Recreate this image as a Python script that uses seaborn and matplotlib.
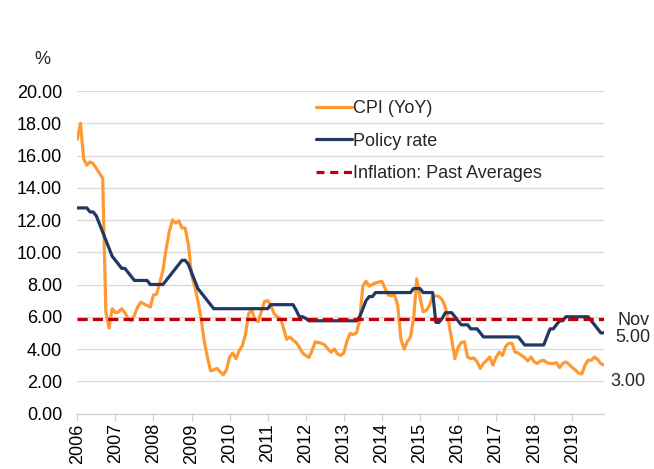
import matplotlib
matplotlib.use("Agg")
import matplotlib.pyplot as plt
from matplotlib.lines import Line2D
import seaborn as sns
import pandas as pd
import numpy as np

# ---- data (monthly, Jan 2006 - Nov 2019) ----
cpi_yoy = [
    17.0, 18.0, 15.8, 15.4, 15.6, 15.5, 15.2, 14.9, 14.6, 6.3, 5.3, 6.5,      # 2006
    6.25, 6.3, 6.5, 6.25, 5.9, 5.75, 6.1, 6.6, 6.9, 6.8, 6.7, 6.6,            # 2007
    7.35, 7.4, 8.1, 8.9, 10.2, 11.3, 12.0, 11.8, 11.95, 11.5, 11.5, 10.5,     # 2008
    8.6, 7.9, 7.0, 5.9, 4.5, 3.5, 2.65, 2.7, 2.8, 2.6, 2.4, 2.7,              # 2009
    3.5, 3.75, 3.4, 3.9, 4.2, 4.9, 6.2, 6.4, 5.8, 5.7, 6.3, 6.95,             # 2010
    7.0, 6.7, 6.2, 6.0, 5.9, 5.3, 4.6, 4.75, 4.55, 4.4, 4.1, 3.75,            # 2011
    3.6, 3.47, 3.9, 4.45, 4.4, 4.35, 4.24, 4.0, 3.8, 4.0, 3.7, 3.6,           # 2012
    3.75, 4.5, 4.97, 4.9, 5.0, 5.8, 7.9, 8.2, 7.9, 8.0, 8.1, 8.15,            # 2013
    8.2, 7.75, 7.35, 7.3, 7.35, 6.7, 4.6, 4.0, 4.45, 4.75, 5.9, 8.35,         # 2014
    7.2, 6.3, 6.4, 6.7, 7.25, 7.3, 7.25, 7.05, 6.6, 5.7, 4.6, 3.4,            # 2015
    4.1, 4.4, 4.45, 3.5, 3.4, 3.45, 3.2, 2.8, 3.1, 3.3, 3.5, 3.0,             # 2016
    3.5, 3.8, 3.6, 4.17, 4.35, 4.35, 3.8, 3.75, 3.6, 3.47, 3.26, 3.5,         # 2017
    3.2, 3.1, 3.26, 3.3, 3.15, 3.1, 3.1, 3.15, 2.85, 3.1, 3.2, 3.05,          # 2018
    2.85, 2.7, 2.5, 2.45, 3.0, 3.3, 3.3, 3.5, 3.35, 3.1, 3.0,                 # 2019
]
policy_rate = [
    12.75, 12.75, 12.75, 12.75, 12.5, 12.5, 12.25, 11.75, 11.25, 10.75, 10.25, 9.75,  # 2006
    9.5, 9.25, 9.0, 9.0, 8.75, 8.5, 8.25, 8.25, 8.25, 8.25, 8.25, 8.0,              # 2007
    8.0, 8.0, 8.0, 8.0, 8.25, 8.5, 8.75, 9.0, 9.25, 9.5, 9.5, 9.25,                 # 2008
    8.75, 8.25, 7.75, 7.5, 7.25, 7.0, 6.75, 6.5, 6.5, 6.5, 6.5, 6.5,                # 2009
    6.5, 6.5, 6.5, 6.5, 6.5, 6.5, 6.5, 6.5, 6.5, 6.5, 6.5, 6.5,                     # 2010
    6.5, 6.75, 6.75, 6.75, 6.75, 6.75, 6.75, 6.75, 6.75, 6.4, 6.0, 6.0,             # 2011
    5.9, 5.75, 5.75, 5.75, 5.75, 5.75, 5.75, 5.75, 5.75, 5.75, 5.75, 5.75,          # 2012
    5.75, 5.75, 5.75, 5.75, 5.75, 6.0, 6.5, 7.0, 7.25, 7.25, 7.5, 7.5,              # 2013
    7.5, 7.5, 7.5, 7.5, 7.5, 7.5, 7.5, 7.5, 7.5, 7.5, 7.75, 7.75,                   # 2014
    7.75, 7.5, 7.5, 7.5, 7.5, 5.65, 5.65, 5.9, 6.25, 6.25, 6.25, 6.0,               # 2015
    5.75, 5.5, 5.5, 5.5, 5.25, 5.25, 5.25, 5.0, 4.75, 4.75, 4.75, 4.75,             # 2016
    4.75, 4.75, 4.75, 4.75, 4.75, 4.75, 4.75, 4.75, 4.5, 4.25, 4.25, 4.25,          # 2017
    4.25, 4.25, 4.25, 4.25, 4.75, 5.25, 5.25, 5.5, 5.75, 5.75, 6.0, 6.0,            # 2018
    6.0, 6.0, 6.0, 6.0, 6.0, 6.0, 5.75, 5.5, 5.25, 5.0, 5.0,                        # 2019
]
inflation_past_avg = 5.85
years = [str(y) for y in range(2006, 2020)]
series_labels = ["CPI (YoY)", "Policy rate", "Inflation: Past Averages"]
last_month_label = "Nov"

n = len(cpi_yoy)
month_idx = list(range(n))
df = pd.DataFrame({"month": month_idx, "cpi": cpi_yoy, "policy": policy_rate})

# ---- style ----
sns.set_theme(style="white")
plt.rcParams["font.family"] = ["Liberation Sans", "DejaVu Sans"]

c_cpi = "#FF9A33"
c_pol = "#1F3864"
c_avg = "#C00000"

fig = plt.figure(figsize=(6.54, 4.69), dpi=100)
ax = fig.add_axes([77.3 / 654, 1 - 413.5 / 469, (604 - 77.3) / 654, (413.5 - 91) / 469])

sns.lineplot(data=df, x="month", y="cpi", ax=ax, color=c_cpi, linewidth=2.3, zorder=3)
sns.lineplot(data=df, x="month", y="policy", ax=ax, color=c_pol, linewidth=2.3, zorder=4)
ax.axhline(inflation_past_avg, color=c_avg, linewidth=2.3, linestyle=(0, (3.2, 1.6)), zorder=5)

ax.set_xlim(0, n - 1)
ax.set_ylim(0, 20)
ax.set_yticks(np.arange(0, 20.01, 2))
ax.set_yticklabels([f"{v:.2f}" for v in np.arange(0, 20.01, 2)])
ax.set_xticks(range(0, n, 12))
ax.set_xticklabels(years, rotation=90)
ax.set_xlabel("")
ax.set_ylabel("")

ax.grid(axis="y", color="#D9D9D9", linewidth=0.9)
ax.grid(axis="x", visible=False)
for s in ["left", "right", "top"]:
    ax.spines[s].set_visible(False)
ax.spines["bottom"].set_color("#D0D0D0")
ax.spines["bottom"].set_linewidth(0.9)
ax.tick_params(axis="x", bottom=True, length=5, width=0.9, color="#D0D0D0",
               labelsize=13, pad=2, labelcolor="#000000")
ax.tick_params(axis="y", left=False, length=0, labelsize=13, pad=11, labelcolor="#000000")

# legend
handles = [
    Line2D([0], [0], color=c_cpi, linewidth=2.3),
    Line2D([0], [0], color=c_pol, linewidth=2.3),
    Line2D([0], [0], color=c_avg, linewidth=2.3, linestyle=(0, (2.5, 1.8))),
]
ax.legend(handles, series_labels, loc="upper left",
          bbox_to_anchor=(307 / 654, 1 - 91 / 469), bbox_transform=fig.transFigure,
          frameon=False, fontsize=13, borderpad=0, handlelength=2.0,
          handletextpad=0.05, labelspacing=0.87)

# end labels
x_last = month_idx[-1]
ax.annotate(last_month_label, xy=(x_last, policy_rate[-1]), xytext=(13, 12),
            textcoords="offset pixels", ha="left", va="center", fontsize=13,
            annotation_clip=False)
ax.annotate(f"{policy_rate[-1]:.2f}", xy=(x_last, policy_rate[-1]), xytext=(11, -5),
            textcoords="offset pixels", ha="left", va="center", fontsize=13,
            annotation_clip=False)
ax.annotate(f"{cpi_yoy[-1]:.2f}", xy=(x_last, cpi_yoy[-1]), xytext=(6, -16),
            textcoords="offset pixels", ha="left", va="center", fontsize=13,
            annotation_clip=False)

fig.text(42 / 654, 1 - 59 / 469, "%", ha="center", va="center", fontsize=13)

fig.savefig("out.png", dpi=100)
